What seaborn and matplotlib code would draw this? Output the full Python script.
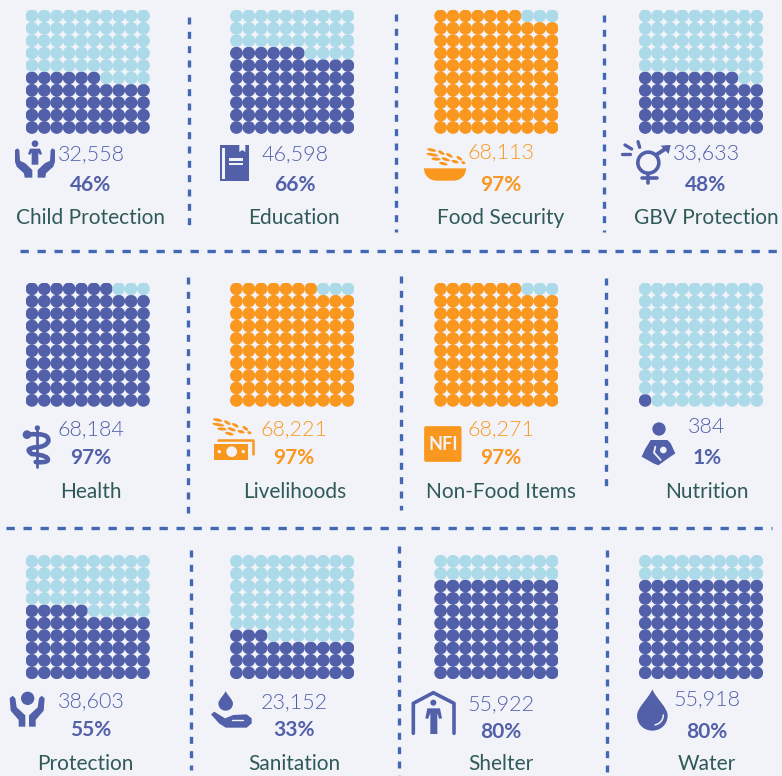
import numpy as np
import pandas as pd
import matplotlib
matplotlib.use("Agg")
import matplotlib.pyplot as plt
import seaborn as sns
from matplotlib import font_manager as fm
from matplotlib.patches import Circle, Ellipse, FancyBboxPatch, PathPatch, Polygon, Rectangle
from matplotlib.path import Path

# values
sectors = ['Child Protection', 'Education', 'Food Security', 'GBV Protection',
           'Health', 'Livelihoods', 'Non-Food Items', 'Nutrition',
           'Protection', 'Sanitation', 'Shelter', 'Water']
people = [32558, 46598, 68113, 33633, 68184, 68221, 68271, 384, 38603, 23152, 55922, 55918]
percent = [46, 66, 97, 48, 97, 97, 97, 1, 55, 33, 80, 80]
highlight = ['Food Security', 'Livelihoods', 'Non-Food Items']

W, H = 782, 776
BG = '#f2f3f9'
DARK = '#5260a9'
LIGHT = '#acdae9'
ORANGE = '#f9971f'
LINE = '#4268b4'
LABEL = '#2f5a57'

# layout in pixels
panel_x = [25.7, 230.2, 434.4, 639.0]
panel_y = [9.7, 282.6, 555.0]
panel_size = 124.0
num_x = [91, 295, 501, 706, 91, 294, 501, 707, 91, 294, 501, 707]
num_y = [154, 154, 152, 153, 429, 429, 429, 427, 701, 702, 704, 699]
pct_x = [91, 295, 501, 706, 91, 294, 501, 707, 91, 294, 501, 707]
pct_y = [185, 185, 185, 185, 458, 458, 458, 458, 730, 730, 732, 732]
lab_x = [91, 294, 501, 706, 91, 295, 501, 707, 85, 294, 501, 707]
lab_y = [218.5, 218.5, 218.5, 218.5, 491.5, 491.5, 491.5, 491.5, 763.5, 763.5, 763.5, 763.5]

sns.set_theme(style='white')
plt.rcParams['font.family'] = ['Lato', 'DejaVu Sans']

# the light cut of Lato, matplotlib's weight lookup picks the hairline one
light_files = [f.fname for f in fm.fontManager.ttflist if f.fname.endswith('Lato-Light.ttf')]
num_font = fm.FontProperties(fname=light_files[0], size=15.5) if light_files else fm.FontProperties(family='Lato', size=15)

fig = plt.figure(figsize=(W / 100, H / 100), dpi=100, facecolor=BG)
over = fig.add_axes([0, 0, 1, 1], zorder=5)
over.set_xlim(0, W)
over.set_ylim(H, 0)
over.axis('off')


def draw_waffle(ax, filled, color):
    # ten by ten dots, filled from the bottom left
    idx = np.arange(100)
    df = pd.DataFrame({'col': idx % 10, 'row': idx // 10, 'on': idx < filled})
    sns.scatterplot(data=df, x='col', y='row', hue='on', palette={True: color, False: LIGHT},
                    s=84, linewidth=0, legend=False, ax=ax)
    ax.set_xlim(-0.5, 9.5)
    ax.set_ylim(-0.5, 9.5)
    ax.axis('off')


def z(pts, x0, y0):
    # points measured on a 3x crop, back to pixels
    return [(x0 + a / 3, y0 + b / 3) for a, b in pts]


def poly(pts, x0, y0, c):
    over.add_patch(Polygon(z(pts, x0, y0), closed=True, fc=c, ec='none'))


def circ(a, b, r, x0, y0, c):
    over.add_patch(Circle((x0 + a / 3, y0 + b / 3), r / 3, fc=c, ec='none'))


def stroke(pts, x0, y0, c, lw):
    over.plot(*zip(*z(pts, x0, y0)), color=c, lw=lw, solid_capstyle='round')


def drop(cx, top, r, c):
    bottom_c = top + 1.7 * r
    verts = [(cx, top), (cx + 0.25 * r, top + 0.6 * r), (cx + r, bottom_c - 0.5 * r), (cx + r, bottom_c),
             (cx + r, bottom_c + 0.6 * r), (cx + 0.55 * r, bottom_c + r), (cx, bottom_c + r),
             (cx - 0.55 * r, bottom_c + r), (cx - r, bottom_c + 0.6 * r), (cx - r, bottom_c),
             (cx - r, bottom_c - 0.5 * r), (cx - 0.25 * r, top + 0.6 * r), (cx, top)]
    codes = [Path.MOVETO] + [Path.CURVE4] * 12
    over.add_patch(PathPatch(Path(verts, codes), fc=c, ec='none'))


def grains(x0, y0, c):
    for a, b, ang, w in [(95, 60, 12, 28), (97, 74, 10, 36), (108, 87, 5, 28), (124, 68, 30, 22), (148, 76, 30, 22),
                         (137, 88, 20, 26), (165, 95, 15, 22), (178, 85, 35, 20), (130, 101, 15, 26), (190, 98, 20, 12)]:
        over.add_patch(Ellipse((x0 + a / 3, y0 + b / 3), w / 3, 9 / 3, angle=ang, fc=c, ec='none'))


def icon_child():
    x0, y0 = 0, 0
    left = [(45, 450), (52, 445), (58, 450), (60, 482), (76, 490), (97, 510), (97, 533), (74, 533), (72, 520), (50, 500), (45, 485)]
    poly(left, x0, y0, DARK)
    poly([(210 - a, b) for a, b in left], x0, y0, DARK)
    circ(105, 431, 10, x0, y0, DARK)
    poly([(84, 462), (90, 446), (120, 446), (126, 462), (120, 465), (115, 458), (115, 494), (95, 494), (95, 458), (90, 465)], x0, y0, DARK)


def icon_book():
    x0, y0 = 210, 138
    poly([(29, 22), (118, 22), (118, 130), (29, 130)], x0, y0, DARK)
    poly([(36, 30), (44, 30), (44, 122), (36, 122)], x0, y0, BG)
    poly([(88, 20), (106, 20), (106, 42), (97, 36), (88, 42)], x0, y0, BG)
    poly([(58, 60), (98, 60), (98, 68), (58, 68)], x0, y0, BG)
    poly([(58, 75), (98, 75), (98, 82), (58, 82)], x0, y0, BG)


def icon_food():
    x0, y0 = 400, 130
    grains(x0, y0, ORANGE)
    verts = [(72, 115), (198, 115), (198, 138), (180, 152), (160, 152), (110, 152), (90, 152), (72, 138), (72, 115), (72, 115)]
    codes = [Path.MOVETO, Path.LINETO, Path.CURVE4, Path.CURVE4, Path.CURVE4, Path.LINETO,
             Path.CURVE4, Path.CURVE4, Path.CURVE4, Path.CLOSEPOLY]
    over.add_patch(PathPatch(Path(z(verts, x0, y0), codes), fc=ORANGE, ec='none'))


def icon_gbv():
    x0, y0 = 400, 130
    over.add_patch(Circle((x0 + 745 / 3, y0 + 98 / 3), 10.5, fc='none', ec=DARK, lw=2.6))
    over.plot(*zip(*z([(768, 75), (806, 50)], x0, y0)), color=DARK, lw=2.8, solid_capstyle='butt')
    poly([(782, 47), (812, 45), (806, 72)], x0, y0, DARK)
    over.plot(*zip(*z([(745, 132), (745, 158)], x0, y0)), color=DARK, lw=2.6)
    over.plot(*zip(*z([(727, 145), (771, 145)], x0, y0)), color=DARK, lw=2.6)
    for seg in [[(675, 45), (695, 57)], [(665, 72), (690, 72)], [(714, 35), (719, 52)]]:
        over.plot(*zip(*z(seg, x0, y0)), color=DARK, lw=2.4)


def icon_health():
    x0, y0 = 15, 418
    stroke([(67, 28), (67, 148)], x0, y0, DARK, 2.0)
    verts = [(35, 50), (105, 42), (100, 70), (92, 88), (60, 88), (28, 92), (50, 108), (105, 112), (98, 128), (90, 135), (62, 132)]
    codes = [Path.MOVETO] + [Path.CURVE3] * 10
    over.add_patch(PathPatch(Path(z(verts, x0, y0), codes), fc='none', ec=DARK, lw=3.3, capstyle='round'))
    circ(36, 50, 13, x0, y0, DARK)
    circ(67, 30, 8, x0, y0, DARK)


def icon_livelihood():
    x0, y0 = 0, 400
    grains(x0 + 186, y0, ORANGE)
    over.plot(*zip(*z([(655, 120), (759, 120), (759, 162)], x0, y0)), color=ORANGE, lw=1.8)
    over.add_patch(Rectangle((x0 + 642 / 3, y0 + 133 / 3), 103 / 3, 47 / 3, fc=ORANGE, ec='none'))
    circ(695, 155, 16, x0, y0, BG)
    circ(658, 155, 5, x0, y0, BG)
    circ(730, 155, 5, x0, y0, BG)


def icon_nfi():
    x0, y0 = 400, 270
    over.add_patch(FancyBboxPatch((x0 + 76 / 3, y0 + 472 / 3), 105 / 3, 100 / 3, boxstyle='round,pad=1.2,rounding_size=2',
                                  fc=ORANGE, ec='none'))
    over.text(x0 + 129 / 3, y0 + 522 / 3, 'NFI', color=BG, fontsize=13, fontweight='bold', ha='center', va='center')


def icon_nutrition():
    x0, y0 = 630, 410
    circ(87, 57, 20, x0, y0, DARK)
    poly([(62, 90), (112, 90), (122, 100), (136, 130), (110, 148), (85, 166), (70, 160), (35, 140), (45, 118)], x0, y0, DARK)
    circ(100, 120, 10, x0, y0, BG)
    stroke([(76, 110), (72, 128), (92, 150)], x0, y0, BG, 1.3)


def icon_protection():
    x0, y0 = 0, 530
    circ(83, 505, 20, x0, y0, DARK)
    left = [(29, 505), (38, 497), (46, 505), (50, 532), (76, 556), (76, 590), (56, 590), (56, 570), (32, 542)]
    poly(left, x0, y0, DARK)
    poly([(163 - a, b) for a, b in left], x0, y0, DARK)


def icon_sanitation():
    x0, y0 = 205, 685
    drop(x0 + 62 / 3, y0 + 18 / 3, 7.3, DARK)
    poly([(18, 88), (28, 80), (60, 100), (85, 90), (125, 88), (140, 100), (140, 115), (125, 128), (62, 128), (42, 115)], x0, y0, DARK)
    stroke([(82, 106), (115, 106)], x0, y0, BG, 1.0)


def icon_shelter():
    x0, y0 = 390, 670
    over.plot(*zip(*z([(70, 190), (70, 100), (130, 68), (192, 100), (192, 190)], x0, y0)),
              color=DARK, lw=2.6, solid_capstyle='round', solid_joinstyle='round')
    circ(130, 98, 9, x0, y0, DARK)
    poly([(106, 145), (112, 115), (150, 115), (156, 145), (148, 147), (142, 130), (142, 192), (121, 192), (121, 130), (114, 147)], x0, y0, DARK)


def icon_water():
    x0, y0 = 390, 670
    drop(x0 + 787 / 3, y0 + 58 / 3, 15.3, DARK)
    t = np.radians(np.linspace(0, 80, 12))
    over.plot(x0 + (795 + 30 * np.cos(t) - 5) / 3, y0 + (135 + 30 * np.sin(t)) / 3, color=BG, lw=1.1)


icons = [icon_child, icon_book, icon_food, icon_gbv, icon_health, icon_livelihood,
         icon_nfi, icon_nutrition, icon_protection, icon_sanitation, icon_shelter, icon_water]

for i, name in enumerate(sectors):
    r, c = i // 4, i % 4
    color = ORANGE if name in highlight else DARK
    ax = fig.add_axes([panel_x[c] / W, 1 - (panel_y[r] + panel_size) / H, panel_size / W, panel_size / H])
    draw_waffle(ax, percent[i], color)

    over.text(num_x[i], num_y[i], f'{people[i]:,}', color=color, fontproperties=num_font, ha='center', va='center')
    over.text(pct_x[i], pct_y[i], f'{percent[i]}%', color=color, fontsize=15, fontweight='bold', ha='center', va='center')
    over.text(lab_x[i], lab_y[i], name, color=LABEL, fontsize=15, ha='center', va='center')
    icons[i]()

# dashed separators between the panels
v_dash = dict(color=LINE, lw=2.4, dashes=(2.1, 2.2), dash_capstyle='butt')
h_dash = dict(color=LINE, lw=2.4, dashes=(2.5, 2.6), dash_capstyle='butt')
for x, y0, y1 in [(188.5, 17, 231), (396, 14, 232), (604, 15, 232),
                  (188, 277, 513), (401, 276, 510), (605.5, 278, 492),
                  (191, 550, 770), (399, 546, 776), (607, 550, 772)]:
    over.plot([x, x], [y0, y1], **v_dash)
for y, x0, x1 in [(251, 20, 782), (527.5, 6, 772)]:
    over.plot([x0, x1], [y, y], **h_dash)

fig.savefig('out.png', dpi=100, facecolor=BG)
